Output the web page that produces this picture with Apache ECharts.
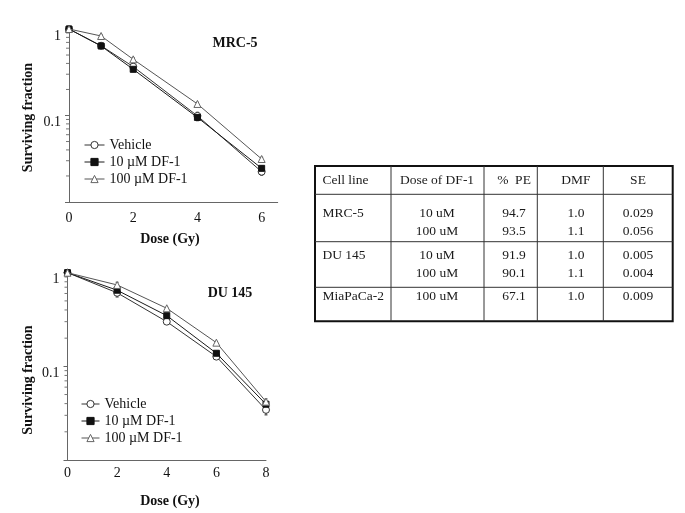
<!DOCTYPE html>
<html><head><meta charset="utf-8">
<script src="https://cdn.jsdelivr.net/npm/echarts@6/dist/echarts.min.js"></script>
<style>html,body{margin:0;padding:0;background:#fff}#c{width:685px;height:513px}</style>
</head><body><div id="c"></div>
<script>
// ---------- data ----------
const seriesNames = ['Vehicle', '10 \u00b5M DF-1', '100 \u00b5M DF-1'];
const mrcDose = [0, 1, 2, 4, 6];
const mrcVehicle = [1, 0.64, 0.367, 0.099, 0.0224];
const mrc10 = [1, 0.636, 0.342, 0.095, 0.0245];
const mrc100 = [1, 0.83, 0.446, 0.136, 0.0314];
const mrcVehicleErr = [0, 0, 0.035, 0.01, 0.002];
const mrc10Err = [0, 0, 0.02, 0.008, 0.0015];
const mrc100Err = [0, 0.03, 0.02, 0.006, 0.0015];
const duDose = [0, 2, 4, 6, 8];
const duVehicle = [1, 0.61, 0.30, 0.127, 0.0343];
const du10 = [1, 0.65, 0.348, 0.138, 0.0394];
const du100 = [1, 0.74, 0.417, 0.179, 0.042];
const duVehicleErr = [0, 0.06, 0.01, 0.005, 0.004];
const du10Err = [0, 0.03, 0.01, 0.005, 0.003];
const du100Err = [0, 0.05, 0.01, 0.005, 0.003];
const minorTickValues = [0.02,0.03,0.04,0.05,0.06,0.07,0.08,0.09,0.2,0.3,0.4,0.5,0.6,0.7,0.8,0.9];
const chartTitles = ['MRC-5', 'DU 145'];
const yTitle = 'Surviving fraction';
const xTitle = 'Dose (Gy)';
const tableHeader = ['Cell line', 'Dose of DF-1', '%  PE', 'DMF', 'SE'];
const tableRows = [
  ['MRC-5', '10 uM', '94.7', '1.0', '0.029'],
  ['', '100 uM', '93.5', '1.1', '0.056'],
  ['DU 145', '10 uM', '91.9', '1.0', '0.005'],
  ['', '100 uM', '90.1', '1.1', '0.004'],
  ['MiaPaCa-2', '100 uM', '67.1', '1.0', '0.009']
];

// ---------- layout / style ----------
const FONT = 'Liberation Serif';
const styles = [
  {symbol: 'circle', symbolSize: 7, item: {color: '#fff', borderColor: '#333', borderWidth: 1}, line: '#333'},
  {symbol: 'rect', symbolSize: 6, item: {color: '#111', borderColor: '#111', borderWidth: 1}, line: '#1a1a1a'},
  {symbol: 'triangle', symbolSize: 7, item: {color: '#fff', borderColor: '#666', borderWidth: 1}, line: '#555'}
];
const grids = [
  {left: 69, top: 29, width: 208.7, height: 173},
  {left: 67.5, top: 272.7, width: 198.5, height: 187.3}
];

function lineSeries(name, idx, gi, xs, ys) {
  const s = styles[idx];
  return {
    type: 'line', name: name, xAxisIndex: gi, yAxisIndex: gi,
    data: xs.map((x, i) => [x, ys[i]]),
    symbol: s.symbol, symbolSize: s.symbolSize, showAllSymbol: true,
    itemStyle: s.item, lineStyle: {color: s.line, width: 1},
    emphasis: {disabled: true}, animation: false, z: 3 + idx
  };
}
function errorBars(gi, xs, ys, es, color) {
  return {
    type: 'custom', xAxisIndex: gi, yAxisIndex: gi, silent: true, animation: false, z: 2,
    data: xs.map((x, i) => [x, ys[i] - es[i], ys[i] + es[i]]).filter((d, i) => es[i] > 0),
    renderItem: function (params, api) {
      const lo = api.coord([api.value(0), api.value(1)]);
      const hi = api.coord([api.value(0), api.value(2)]);
      return {type: 'group', children: [
        {type: 'line', shape: {x1: lo[0], y1: lo[1], x2: hi[0], y2: hi[1]}, style: {stroke: color, lineWidth: 1}},
        {type: 'line', shape: {x1: lo[0] - 1.5, y1: lo[1], x2: lo[0] + 1.5, y2: lo[1]}, style: {stroke: color, lineWidth: 1}},
        {type: 'line', shape: {x1: hi[0] - 1.5, y1: hi[1], x2: hi[0] + 1.5, y2: hi[1]}, style: {stroke: color, lineWidth: 1}}
      ]};
    }
  };
}
function minorTicks(gi, x0) {
  return {
    type: 'custom', xAxisIndex: gi, yAxisIndex: gi, silent: true, animation: false,
    data: minorTickValues.map(v => [x0, v]),
    renderItem: function (params, api) {
      const p = api.coord([api.value(0), api.value(1)]);
      return {type: 'line', shape: {x1: p[0] - 3, y1: p[1], x2: p[0], y2: p[1]},
        style: {stroke: '#777', lineWidth: 1}};
    }
  };
}
function yAxis(gi) {
  return {
    type: 'log', logBase: 10, min: 0.01, max: 1, gridIndex: gi,
    axisLine: {show: true, lineStyle: {color: '#666', width: 1}},
    axisTick: {show: true, length: 4, lineStyle: {color: '#666'}},
    splitLine: {show: false},
    axisLabel: {fontFamily: FONT, fontSize: 14, color: '#111', margin: 8, verticalAlign: 'top',
      formatter: v => (v < 0.05 ? '' : String(+v.toPrecision(3)))}
  };
}
function xAxis(gi, max, margin) {
  return {
    type: 'value', min: 0, max: max, interval: 2, gridIndex: gi,
    axisLine: {show: true, onZero: false, lineStyle: {color: '#666', width: 1}},
    axisTick: {show: false}, splitLine: {show: false},
    axisLabel: {fontFamily: FONT, fontSize: 14, color: '#111', margin: margin, showMaxLabel: max % 2 === 0,
      formatter: v => (v % 2 === 0 ? String(v) : '')}
  };
}
function legend(left, top, w) {
  return {
    orient: 'vertical', left: left, top: top, itemWidth: w, itemHeight: 9, itemGap: 3, padding: 0,
    data: seriesNames, selectedMode: false,
    lineStyle: {width: 1}, itemStyle: {borderWidth: 1},
    textStyle: {fontFamily: FONT, fontSize: 14, color: '#111'}
  };
}

// table layout
const tbl = {x0: 315, x1: 672.7, y0: 166, y1: 321.3,
  hLines: [194.3, 241.7, 287.3], vLines: [391, 484, 537.3, 603.3],
  colText: [{x: 322.5, align: 'left'}, {x: 437, align: 'center'}, {x: 514, align: 'center'}, {x: 576, align: 'center'}, {x: 638, align: 'center'}],
  headerY: 180.7, rowY: [213.3, 231.7, 255, 273.3, 296.7]};

const graphic = [];
graphic.push({type: 'rect', shape: {x: tbl.x0, y: tbl.y0, width: tbl.x1 - tbl.x0, height: tbl.y1 - tbl.y0},
  style: {fill: 'none', stroke: '#111', lineWidth: 2}});
tbl.hLines.forEach(y => graphic.push({type: 'line', shape: {x1: tbl.x0, y1: y, x2: tbl.x1, y2: y}, style: {stroke: '#333', lineWidth: 1}}));
tbl.vLines.forEach(x => graphic.push({type: 'line', shape: {x1: x, y1: tbl.y0, x2: x, y2: tbl.y1}, style: {stroke: '#333', lineWidth: 1}}));
function cellText(txt, ci, y) {
  const c = tbl.colText[ci];
  graphic.push({type: 'text', x: c.x, y: y, style: {text: txt, fill: '#1a1a1a', font: '13.5px "' + FONT + '"', align: c.align, verticalAlign: 'middle'}});
}
tableHeader.forEach((t, ci) => cellText(t, ci, tbl.headerY));
tableRows.forEach((row, ri) => row.forEach((t, ci) => { if (t) cellText(t, ci, tbl.rowY[ri]); }));

// titles
const titlePos = [[235, 43], [230, 293]];
chartTitles.forEach((t, i) => graphic.push({type: 'text', x: titlePos[i][0], y: titlePos[i][1],
  style: {text: t, fill: '#111', font: 'bold 14px "' + FONT + '"', align: 'center', verticalAlign: 'middle'}}));
const yTitlePos = [[28, 117.5], [28, 380]];
yTitlePos.forEach(p => graphic.push({type: 'text', x: p[0], y: p[1], rotation: Math.PI / 2,
  style: {text: yTitle, fill: '#111', font: 'bold 14px "' + FONT + '"', align: 'center', verticalAlign: 'middle'}}));
const xTitlePos = [[170, 239], [170, 501.5]];
xTitlePos.forEach(p => graphic.push({type: 'text', x: p[0], y: p[1],
  style: {text: xTitle, fill: '#111', font: 'bold 14px "' + FONT + '"', align: 'center', verticalAlign: 'middle'}}));

const chart = echarts.init(document.getElementById('c'), null, {renderer: 'canvas'});
chart.setOption({
  backgroundColor: '#fff',
  animation: false,
  grid: grids,
  xAxis: [xAxis(0, 6.5, 9), xAxis(1, 8, 6)],
  yAxis: [yAxis(0), yAxis(1)],
  legend: [legend(84, 138, 20), legend(81, 397, 18)],
  series: [
    minorTicks(0, 0), minorTicks(1, 0),
    errorBars(0, mrcDose, mrcVehicle, mrcVehicleErr, '#333'),
    errorBars(0, mrcDose, mrc10, mrc10Err, '#1a1a1a'),
    errorBars(0, mrcDose, mrc100, mrc100Err, '#555'),
    errorBars(1, duDose, duVehicle, duVehicleErr, '#333'),
    errorBars(1, duDose, du10, du10Err, '#1a1a1a'),
    errorBars(1, duDose, du100, du100Err, '#555'),
    lineSeries(seriesNames[0], 0, 0, mrcDose, mrcVehicle),
    lineSeries(seriesNames[1], 1, 0, mrcDose, mrc10),
    lineSeries(seriesNames[2], 2, 0, mrcDose, mrc100),
    lineSeries(seriesNames[0], 0, 1, duDose, duVehicle),
    lineSeries(seriesNames[1], 1, 1, duDose, du10),
    lineSeries(seriesNames[2], 2, 1, duDose, du100)
  ],
  graphic: graphic
});
</script></body></html>
